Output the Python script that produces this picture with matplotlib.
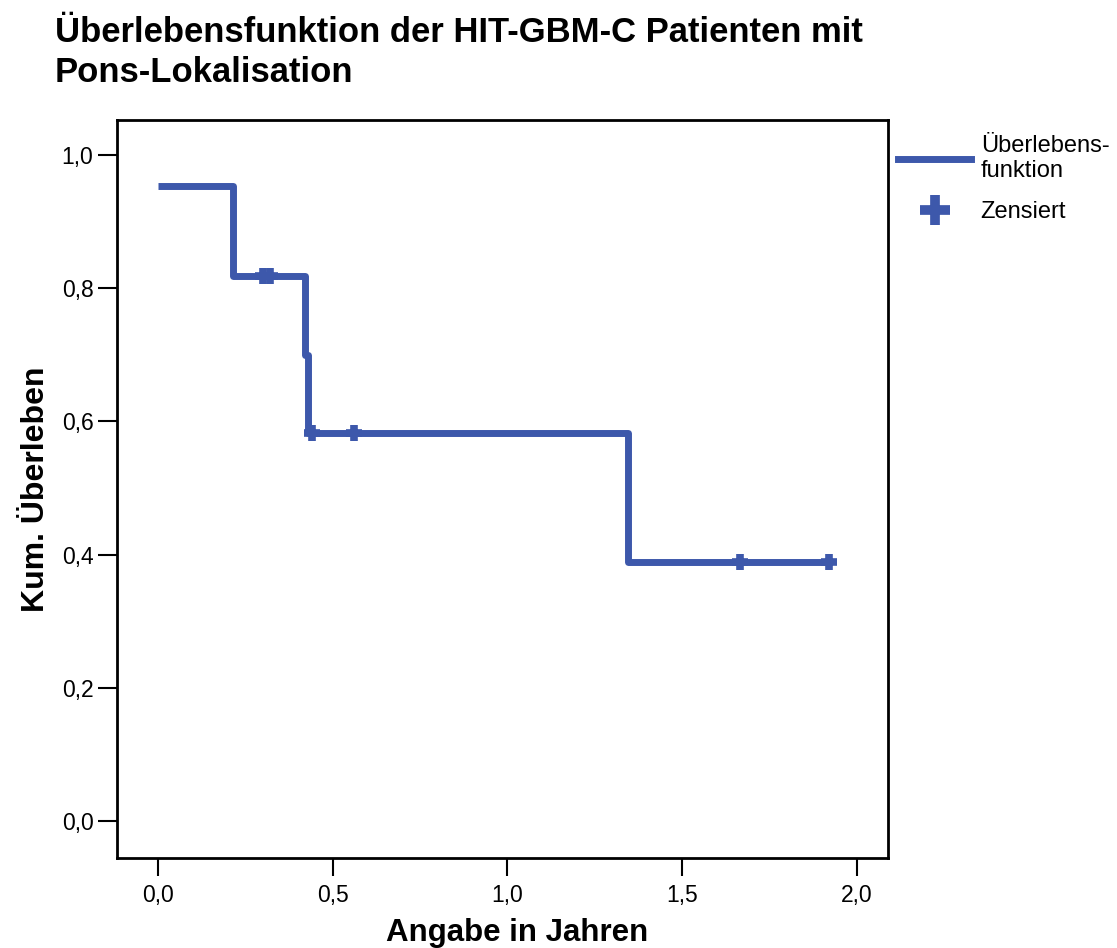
import matplotlib
matplotlib.use("Agg")
import matplotlib.pyplot as plt
from matplotlib.lines import Line2D

plt.rcParams['font.family'] = ['Liberation Sans', 'DejaVu Sans']

# Kaplan-Meier step curve (time in years, cumulative survival)
step_times = [0.0, 0.215, 0.42, 0.43, 1.345, 1.93]
step_surv = [0.953, 0.818, 0.700, 0.583, 0.389, 0.389]

# censored observations
cens_times = [0.30, 0.32, 0.44, 0.56, 1.665, 1.92]
cens_surv = [0.818, 0.818, 0.583, 0.583, 0.389, 0.389]

x_ticks = [0.0, 0.5, 1.0, 1.5, 2.0]
y_ticks = [0.0, 0.2, 0.4, 0.6, 0.8, 1.0]

color = '#3D58AB'

fig = plt.figure(figsize=(11.17, 9.48), dpi=100)
ax = fig.add_axes([117/1117, 1-858/948, (888-117)/1117, (858-120)/948])

ax.step(step_times, step_surv, where='post', color=color, lw=5,
        solid_joinstyle='round', solid_capstyle='butt')
ax.plot(cens_times, cens_surv, linestyle='none', marker='+', markersize=12,
        markeredgewidth=5.5, color=color)

ax.set_xlim(-0.117, 2.089)
ax.set_ylim(-0.0556, 1.0526)
ax.set_xticks(x_ticks)
ax.set_yticks(y_ticks)
ax.set_xticklabels([f"{v:.1f}".replace('.', ',') for v in x_ticks])
ax.set_yticklabels([f"{v:.1f}".replace('.', ',') for v in y_ticks])
ax.tick_params(axis='y', direction='out', length=14, width=1.5, labelsize=16.5, pad=3)
ax.tick_params(axis='x', direction='out', length=13, width=1.5, labelsize=16.5, pad=6)
for s in ax.spines.values():
    s.set_linewidth(2)

ax.set_xlabel('Angabe in Jahren', fontsize=22.5, fontweight='bold', labelpad=8)
ax.xaxis.label.set_x(0.519)
ax.set_ylabel('Kum. Überleben', fontsize=23, fontweight='bold', labelpad=8)

fig.text(55/1117, 1-16/948, 'Überlebensfunktion der HIT-GBM-C Patienten mit\nPons-Lokalisation',
         fontsize=24.9, fontweight='bold', ha='left', va='top', linespacing=1.28)

handles = [Line2D([], [], color=color, lw=5),
           Line2D([], [], color=color, linestyle='none', marker='+',
                  markersize=21, markeredgewidth=7)]
leg = fig.legend(handles, ['Überlebens-\nfunktion', 'Zensiert'],
                 loc='upper left', bbox_to_anchor=(898/1117, 1-135/948),
                 frameon=False, fontsize=17, handlelength=3.1, handletextpad=0.4,
                 labelspacing=0.8, borderpad=0, borderaxespad=0)
for t in leg.get_texts():
    t.set_linespacing(1.2)

fig.savefig('out.png', dpi=100)
